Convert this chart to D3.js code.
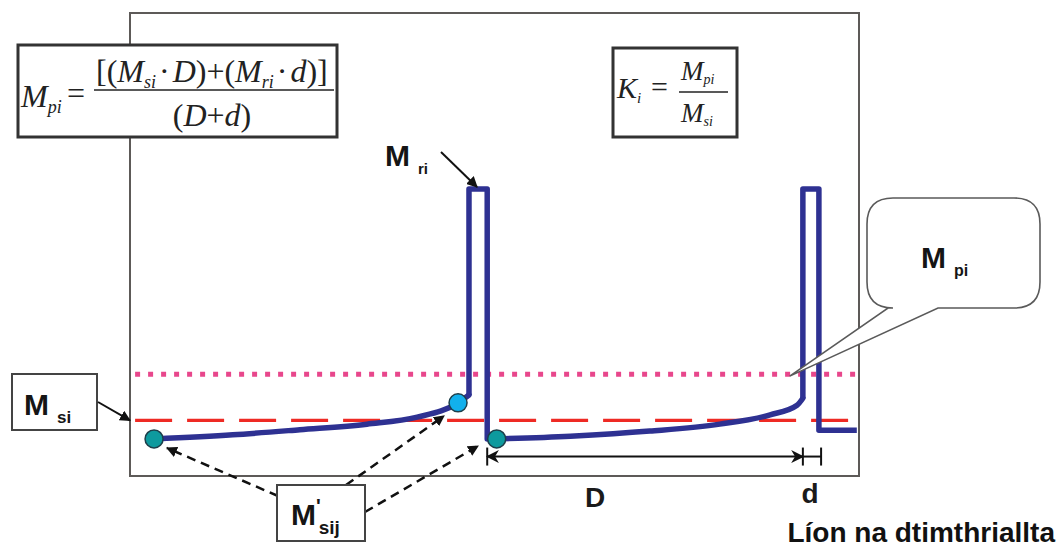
<!DOCTYPE html>
<html><head><meta charset="utf-8">
<script src="https://cdn.jsdelivr.net/npm/d3@7"></script>
<style>
html,body{margin:0;padding:0;background:#fff;}
svg{display:block;}
</style></head>
<body>
<svg id="chart" width="1061" height="549"></svg>
<script>
// ---------- data (x = cycle position 0..100, y = moisture level 0..100) ----------
const xDomain = [0, 100];
const yDomain = [0, 100];
const msiLevel = 12;     // M si  (red dashed)
const mpiLevel = 22;     // M pi  (pink dotted)
const mriLevel = 62;     // M ri  (spike top)
const curve1 = [[3.3, 8.0], [14.1, 8.9], [23.3, 10.0], [32.5, 11.2], [39.4, 12.7], [45.0, 15.8], [46.5, 17.5]];
const spike1 = [[46.5, 17.5], [46.5, 62], [49.0, 62], [49.0, 8.0], [50.3, 8.0]];
const curve2 = [[50.3, 8.0], [60.4, 8.6], [71.3, 9.7], [80.9, 11.2], [87.8, 13.2], [91.5, 15.3], [92.3, 16.8]];
const spike2 = [[92.3, 16.8], [92.3, 62], [94.5, 62], [94.5, 9.9], [99.7, 9.9]];
const tealPoints = [[3.3, 8.0], [50.3, 8.0]];
const cyanPoints = [[45.0, 15.8]];
const dimD = [49.0, 92.3];
const dimd = [92.3, 94.8];
const dimLevel = 4.2;
const labels = {D: "D", d: "d", axis: "Líon na dtimthriallta"};

// ---------- layout ----------
const svg = d3.select("#chart");
const x = d3.scaleLinear().domain(xDomain).range([130, 859]);
const y = d3.scaleLinear().domain(yDomain).range([476, 13]);
const blue = "#2E3192";

// defs: arrow markers
const defs = svg.append("defs");
defs.append("marker").attr("id", "arr").attr("viewBox", "0 0 10 10").attr("refX", 9).attr("refY", 5)
  .attr("markerWidth", 11).attr("markerHeight", 11).attr("markerUnits", "userSpaceOnUse").attr("orient", "auto")
  .append("path").attr("d", "M0,0 L10,5 L0,10 Z").attr("fill", "#111");
defs.append("marker").attr("id", "arrS").attr("viewBox", "0 0 10 10").attr("refX", 9).attr("refY", 5)
  .attr("markerWidth", 13).attr("markerHeight", 13).attr("markerUnits", "userSpaceOnUse").attr("orient", "auto-start-reverse")
  .append("path").attr("d", "M0,0 L10,5 L0,10 L3,5 Z").attr("fill", "#111");

// frame
svg.append("rect").attr("x", x(0)).attr("y", y(100)).attr("width", x(100) - x(0)).attr("height", y(0) - y(100))
  .attr("fill", "none").attr("stroke", "#5d5a58").attr("stroke-width", 2);

// reference lines
svg.append("line").attr("x1", x(0.7)).attr("x2", x(99.5)).attr("y1", y(mpiLevel)).attr("y2", y(mpiLevel))
  .attr("stroke", "#E8478C").attr("stroke-width", 5).attr("stroke-dasharray", "5,8");
svg.append("line").attr("x1", x(0.7)).attr("x2", x(99.4)).attr("y1", y(msiLevel)).attr("y2", y(msiLevel))
  .attr("stroke", "#EE2A24").attr("stroke-width", 3.2).attr("stroke-dasharray", "37,15");

// blue moisture line
const lineLin = d3.line().x(d => x(d[0])).y(d => y(d[1]));
const lineCurve = d3.line().x(d => x(d[0])).y(d => y(d[1])).curve(d3.curveMonotoneX);
[curve1, curve2].forEach(c => svg.append("path").attr("d", lineCurve(c)).attr("fill", "none")
  .attr("stroke", blue).attr("stroke-width", 5.5).attr("stroke-linecap", "round"));
[spike1, spike2].forEach(c => svg.append("path").attr("d", lineLin(c)).attr("fill", "none")
  .attr("stroke", blue).attr("stroke-width", 5.5).attr("stroke-linejoin", "round").attr("stroke-linecap", "butt"));

// points
svg.selectAll(".teal").data(tealPoints).join("circle").attr("cx", d => x(d[0])).attr("cy", d => y(d[1]))
  .attr("r", 9).attr("fill", "#0E9A9E").attr("stroke", "#1d3f4a").attr("stroke-width", 1.5);
svg.selectAll(".cyan").data(cyanPoints).join("circle").attr("cx", d => x(d[0])).attr("cy", d => y(d[1]))
  .attr("r", 9).attr("fill", "#12B0EC").attr("stroke", "#1d3f4a").attr("stroke-width", 1.5);

// dimension D / d
const dy = y(dimLevel);
svg.append("line").attr("x1", x(dimD[0])).attr("x2", x(dimD[1])).attr("y1", dy).attr("y2", dy)
  .attr("stroke", "#111").attr("stroke-width", 2).attr("marker-start", "url(#arrS)").attr("marker-end", "url(#arrS)");
svg.append("line").attr("x1", x(dimd[0])).attr("x2", x(dimd[1])).attr("y1", dy).attr("y2", dy)
  .attr("stroke", "#111").attr("stroke-width", 2);
[dimD[0], dimD[1], dimd[1]].forEach(v => svg.append("line").attr("x1", x(v)).attr("x2", x(v))
  .attr("y1", dy - 9).attr("y2", dy + 9).attr("stroke", "#111").attr("stroke-width", 2));

const sans = "'Liberation Sans', Arial, sans-serif";
const serif = "'Liberation Serif', 'Times New Roman', serif";
svg.append("text").attr("x", 595).attr("y", 507).attr("text-anchor", "middle")
  .attr("font-family", sans).attr("font-weight", "bold").attr("font-size", 28).attr("fill", "#1a1a1a").text(labels.D);
svg.append("text").attr("x", (x(dimd[0]) + x(dimd[1])) / 2 - 2).attr("y", 503).attr("text-anchor", "middle")
  .attr("font-family", sans).attr("font-weight", "bold").attr("font-size", 28).attr("fill", "#1a1a1a").text(labels.d);
svg.append("text").attr("x", 1055).attr("y", 542).attr("text-anchor", "end")
  .attr("font-family", sans).attr("font-weight", "bold").attr("font-size", 28).attr("fill", "#111").text(labels.axis);

// ---------- label helper ----------
function boldLabel(g, px, py, main, sub, sup, subSize) {
  const t = g.append("text").attr("x", px).attr("y", py).attr("font-family", sans).attr("font-weight", "bold")
    .attr("fill", "#151515");
  t.append("tspan").attr("font-size", 30).text(main);
  if (sup) t.append("tspan").attr("font-size", 20).attr("dy", -12).text(sup);
  t.append("tspan").attr("font-size", subSize).attr("dx", sup ? -2 : 8).attr("dy", sup ? 21 : 8).text(sub);
}

// M ri label + arrow
boldLabel(svg, 385, 166, "M", "ri", null, 15);
svg.append("line").attr("x1", 441).attr("y1", 152).attr("x2", x(47.6)).attr("y2", y(mriLevel) - 2)
  .attr("stroke", "#111").attr("stroke-width", 2).attr("marker-end", "url(#arr)");

// M si box + arrow
svg.append("rect").attr("x", 12).attr("y", 374).attr("width", 85).attr("height", 56)
  .attr("fill", "#fff").attr("stroke", "#444").attr("stroke-width", 2);
boldLabel(svg, 24, 415, "M", "si", null, 17);
svg.append("line").attr("x1", 98).attr("y1", 402).attr("x2", x(0)).attr("y2", y(msiLevel))
  .attr("stroke", "#111").attr("stroke-width", 2).attr("marker-end", "url(#arr)");

// M' sij box + dashed arrows
const dashArrows = [[278, 496, 167, 448], [346, 485, 444, 416], [365, 512, 478, 446]];
dashArrows.forEach(a => svg.append("line").attr("x1", a[0]).attr("y1", a[1]).attr("x2", a[2]).attr("y2", a[3])
  .attr("stroke", "#111").attr("stroke-width", 2.5).attr("stroke-dasharray", "9,6").attr("marker-end", "url(#arr)"));
svg.append("rect").attr("x", 277).attr("y", 485).attr("width", 88).attr("height", 56)
  .attr("fill", "#fff").attr("stroke", "#444").attr("stroke-width", 2);
boldLabel(svg, 291, 525, "M", "sij", "'", 19);

// callout M pi
const cp = d3.path();
const bx0 = 867, bx1 = 1040, by0 = 198, by1 = 308, r = 26;
cp.moveTo(bx0 + r, by0);
cp.lineTo(bx1 - r, by0); cp.quadraticCurveTo(bx1, by0, bx1, by0 + r);
cp.lineTo(bx1, by1 - r); cp.quadraticCurveTo(bx1, by1, bx1 - r, by1);
cp.lineTo(938, by1); cp.lineTo(x(90.5), y(mpiLevel) + 2); cp.lineTo(888, by1);
cp.lineTo(bx0 + r, by1); cp.quadraticCurveTo(bx0, by1, bx0, by1 - r);
cp.lineTo(bx0, by0 + r); cp.quadraticCurveTo(bx0, by0, bx0 + r, by0);
cp.closePath();
svg.append("path").attr("d", cp.toString()).attr("fill", "#fff").attr("stroke", "#5a5a5a").attr("stroke-width", 1.6);
boldLabel(svg, 921, 268, "M", "pi", null, 16);

// ---------- formula boxes ----------
const f1 = svg.append("g");
f1.append("rect").attr("x", 18).attr("y", 45).attr("width", 319).attr("height", 92)
  .attr("fill", "#fff").attr("stroke", "#333").attr("stroke-width", 3);
f1.append("text").attr("x", 21).attr("y", 107).attr("font-family", serif).attr("font-style", "italic")
  .attr("font-size", 32).attr("fill", "#222").text("M")
  .append("tspan").attr("font-size", 18).attr("dy", 6).text("pi");
f1.append("text").attr("x", 67).attr("y", 104).attr("font-family", serif).attr("font-size", 32).attr("fill", "#222").text("=");
const num = f1.append("text").attr("x", 96).attr("y", 82).attr("font-family", serif).attr("font-size", 32).attr("fill", "#222");
num.append("tspan").text("[(");
num.append("tspan").attr("font-style", "italic").text("M");
num.append("tspan").attr("font-style", "italic").attr("font-size", 18).attr("dy", 6).text("si");
num.append("tspan").attr("dy", -6).attr("dx", 3).text("·");
num.append("tspan").attr("font-style", "italic").attr("dx", 3).text("D");
num.append("tspan").text(")+(");
num.append("tspan").attr("font-style", "italic").text("M");
num.append("tspan").attr("font-style", "italic").attr("font-size", 18).attr("dy", 6).text("ri");
num.append("tspan").attr("dy", -6).attr("dx", 3).text("·");
num.append("tspan").attr("font-style", "italic").attr("dx", 3).text("d");
num.append("tspan").text(")]");
f1.append("line").attr("x1", 94).attr("x2", 334).attr("y1", 90).attr("y2", 90).attr("stroke", "#222").attr("stroke-width", 1.5);
const den = f1.append("text").attr("x", 212).attr("y", 126).attr("text-anchor", "middle").attr("font-family", serif)
  .attr("font-size", 32).attr("fill", "#222");
den.append("tspan").text("(");
den.append("tspan").attr("font-style", "italic").text("D");
den.append("tspan").text("+");
den.append("tspan").attr("font-style", "italic").text("d");
den.append("tspan").text(")");

const f2 = svg.append("g");
f2.append("rect").attr("x", 613).attr("y", 48).attr("width", 124).attr("height", 89)
  .attr("fill", "#fff").attr("stroke", "#333").attr("stroke-width", 3);
f2.append("text").attr("x", 617).attr("y", 98).attr("font-family", serif).attr("font-style", "italic")
  .attr("font-size", 30).attr("fill", "#222").text("K")
  .append("tspan").attr("font-size", 15).attr("dy", 5).text("i");
f2.append("text").attr("x", 651).attr("y", 97).attr("font-family", serif).attr("font-size", 30).attr("fill", "#222").text("=");
f2.append("line").attr("x1", 679).attr("x2", 728).attr("y1", 92).attr("y2", 92).attr("stroke", "#222").attr("stroke-width", 1.5);
f2.append("text").attr("x", 681).attr("y", 80).attr("font-family", serif).attr("font-style", "italic")
  .attr("font-size", 27).attr("fill", "#222").text("M")
  .append("tspan").attr("font-size", 14).attr("dy", 4).text("pi");
f2.append("text").attr("x", 681).attr("y", 122).attr("font-family", serif).attr("font-style", "italic")
  .attr("font-size", 27).attr("fill", "#222").text("M")
  .append("tspan").attr("font-size", 14).attr("dy", 4).text("si");
</script>
</body></html>
